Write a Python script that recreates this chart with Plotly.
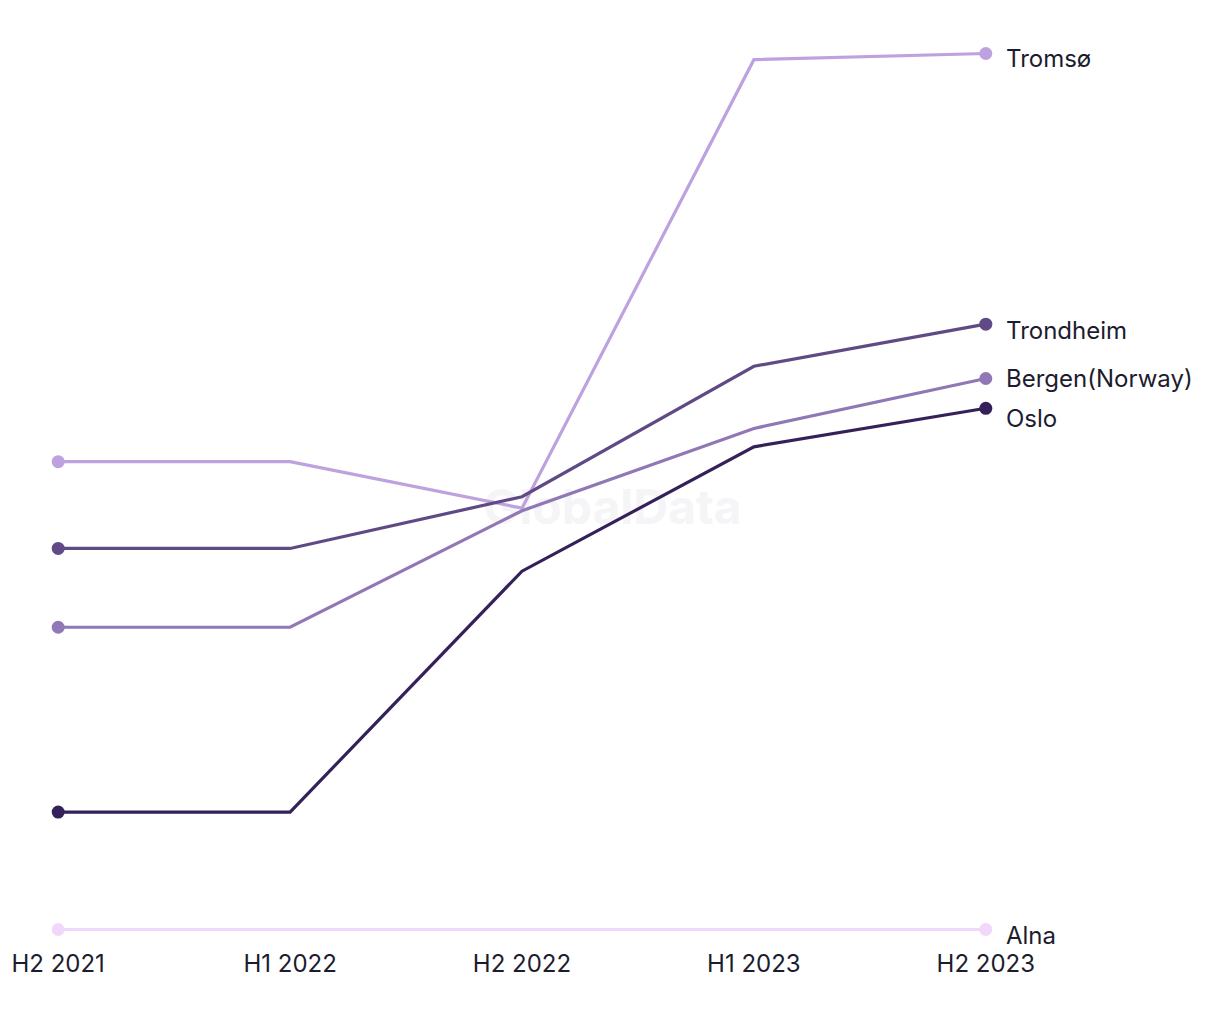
import plotly.graph_objects as go

periods = ["H2 2021", "H1 2022", "H2 2022", "H1 2023", "H2 2023"]
series_names = ["Alna", "Tromsø", "Trondheim", "Bergen(Norway)", "Oslo"]
alna = [0.0, 0.0, 0.0, 0.0, 0.0]
tromso = [53.4, 53.4, 48.1, 99.3, 100.0]
trondheim = [43.5, 43.5, 49.4, 64.3, 69.1]
bergen = [34.5, 34.5, 47.8, 57.2, 62.9]
oslo = [13.4, 13.4, 40.9, 55.1, 59.5]

values = [alna, tromso, trondheim, bergen, oslo]
colors = ["#f1d8fa", "#bea2e0", "#5f4a85", "#9077b5", "#35215a"]
label_shift = [-6, -5, -6, 0, -10]
text_color = "#1c1c2e"
font_family = "Inter, Roboto, sans-serif"

fig = go.Figure()
x_idx = list(range(len(periods)))

# watermark beneath the lines
fig.add_trace(go.Scatter(
    x=[2.39], y=[47.7], mode="text", text=["<b>GlobalData</b>"],
    textfont=dict(family=font_family, size=48, color="#f5f5f7"),
    showlegend=False, hoverinfo="skip", cliponaxis=False,
))

for name, vals, col in zip(series_names, values, colors):
    fig.add_trace(go.Scatter(
        x=x_idx, y=vals, name=name, mode="lines",
        line=dict(color=col, width=3.2),
        cliponaxis=False, showlegend=False, hoverinfo="skip",
    ))
    fig.add_trace(go.Scatter(
        x=[x_idx[0], x_idx[-1]], y=[vals[0], vals[-1]], mode="markers",
        marker=dict(color=col, size=13, symbol="circle", opacity=1, line=dict(width=0)),
        cliponaxis=False, showlegend=False, hoverinfo="skip",
    ))

for name, vals, col, sh in zip(series_names, values, colors, label_shift):
    fig.add_annotation(
        x=x_idx[-1], y=vals[-1], text=name, showarrow=False,
        xanchor="left", yanchor="middle", xshift=18, yshift=sh,
        font=dict(family=font_family, size=24, color=text_color),
    )

fig.update_layout(
    width=1220, height=1020,
    margin=dict(l=35, r=211, t=36, b=73),
    paper_bgcolor="white", plot_bgcolor="white",
    xaxis=dict(
        range=[-0.1, 4.1], tickmode="array", tickvals=x_idx, ticktext=periods,
        showgrid=False, zeroline=False, showline=False, ticks="",
        tickfont=dict(family=font_family, size=24, color=text_color),
    ),
    yaxis=dict(range=[-2, 102], visible=False, showgrid=False, zeroline=False),
)

fig.write_html("out.html")
